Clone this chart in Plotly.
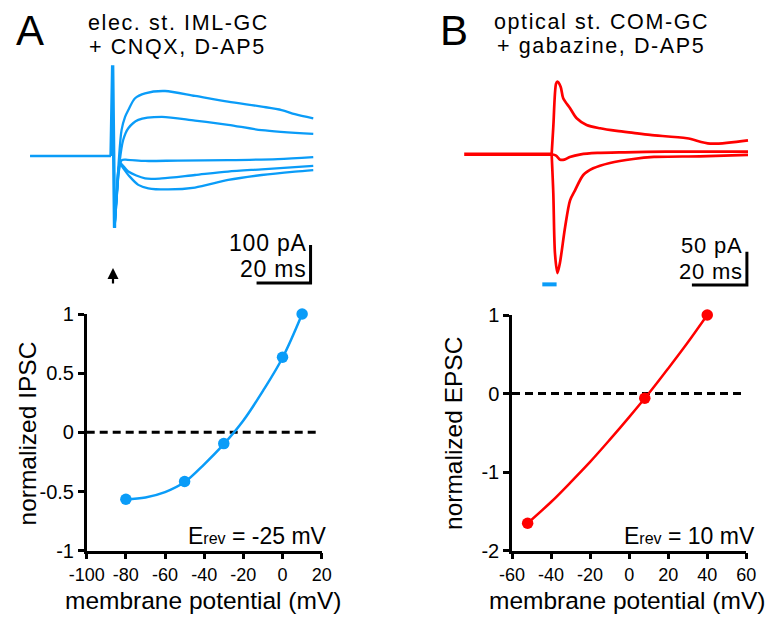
import plotly.graph_objects as go

W, H = 774, 619
BLUE = "#0A9CF8"
RED = "#FF0000"
FONT = "Liberation Sans, Arial, Helvetica, sans-serif"

# ---------------- Panel A traces (time in ms, current in pA) ----------------
a_base_t = [-31.1, -1.1]
a_base_i = [0, 0]
a_artifact_t = [-1.1, -0.5, 0.2]
a_artifact_i = [0, 239, -189]
a_tr1_t = [0.2, 1.0, 1.8, 2.8, 4.1, 5.3, 7.8, 11.5, 18.9, 30, 42.2, 54.7, 62.1, 67, 73.8]
a_tr1_i = [-189, -110, -10, 68, 103, 121, 152, 165, 171, 158, 143, 130, 121, 110, 99]
a_tr2_t = [0.2, 1.1, 2.0, 3.4, 5.3, 9, 17.7, 30, 42.3, 54.7, 73.8]
a_tr2_i = [-189, -100, -20, 42, 73, 95, 103, 93, 82, 68, 58]
a_tr3_t = [0.2, 1.0, 1.8, 2.9, 5, 11.5, 23.7, 42.2, 60.7, 73.8]
a_tr3_i = [-189, -100, -40, -11, -10, -13, -12, -11, -8, -3]
a_tr4_t = [0.2, 1.0, 2.2, 5.3, 11.5, 17.7, 30, 42.2, 54.7, 73.8]
a_tr4_i = [-189, -100, -19, -41, -59, -59, -50, -41, -35, -26]
a_tr5_t = [0.2, 1.0, 2.2, 5.3, 9, 12.7, 20.1, 30, 42.3, 54.7, 67, 73.8]
a_tr5_i = [-189, -100, -24, -50, -76, -85, -88, -83, -63, -50, -41, -37]
a_scale_t = [52.8, 72.8, 72.8]      # 20 ms
a_scale_i = [-334, -334, -234]      # 100 pA

# ---------------- Panel B traces ----------------
b_base_t = [-28.4, 3.4]
b_base_i = [0, 0]
b_up_t = [3.4, 4.0, 5.0, 5.5, 6.7, 7.6, 10.1, 12.5, 16.1, 21, 27.1, 33.1, 39.2, 52.6, 61, 74.8]
b_up_i = [0, 41, 106, 109, 101, 84, 69, 54, 44, 39, 35, 32, 29, 24, 16, 21]
b_down_t = [3.4, 4.0, 4.6, 5.5, 6.4, 8.3, 10.1, 11.9, 14.9, 18.5, 24.6, 33.1, 40.6, 57.3, 74.8]
b_down_i = [0, -58, -148, -178, -163, -109, -69, -54, -31, -21, -13, -7, -4, -3, -1]
b_mid_t = [3.4, 5, 6.5, 8, 10, 14, 20, 30, 45, 60, 74.8]
b_mid_i = [0, -2, -8, -8, -4, 0, 2, 3, 4, 4, 4]
b_light_t = [0, 5.2]
b_light_i = [-195, -195]
b_scale_t = [54.4, 74.4, 74.4]      # 20 ms
b_scale_i = [-196, -196, -146]      # 50 pA

# ---------------- I-V data ----------------
ipsc_v = [-80, -50, -30, 0, 10]
ipsc_norm = [-0.565, -0.415, -0.095, 0.635, 1.0]
ipsc_fit_v = [-80, -70, -60, -50, -40, -30, -20, -10, 0, 10]
ipsc_fit_y = [-0.565, -0.55, -0.505, -0.42, -0.27, -0.1, 0.1, 0.35, 0.63, 1.0]

epsc_v = [-52, 8, 40]
epsc_norm = [-1.65, -0.06, 1.0]
epsc_fit_v = [-52, -40, -30, -20, -10, 0, 10, 20, 30, 40]
epsc_fit_y = [-1.65, -1.38, -1.13, -0.87, -0.59, -0.30, 0.0, 0.32, 0.65, 1.0]

a_xticks = [-100, -80, -60, -40, -20, 0, 20]
a_xtext = ["-100", "-80", "-60", "-40", "-20", "0", "20"]
a_yticks = [-1, -0.5, 0, 0.5, 1]
a_ytext = ["-1", "-0.5", "0", "0.5", "1"]
b_xticks = [-60, -40, -20, 0, 20, 40, 60]
b_xtext = ["-60", "-40", "-20", "0", "20", "40", "60"]
b_yticks = [-2, -1, 0, 1]
b_ytext = ["-2", "-1", "0", "1"]


def fx(px):
    return px / W


def fy(py):
    return 1 - py / H


fig = go.Figure()


def tr(x, y, color, w, xa, ya, shape="spline"):
    fig.add_trace(go.Scatter(x=x, y=y, mode="lines", xaxis=xa, yaxis=ya,
                             line=dict(color=color, width=w, shape=shape, smoothing=0.8),
                             hoverinfo="skip", cliponaxis=False))


tr(a_base_t, a_base_i, BLUE, 2.3, "x3", "y3", "linear")
tr(a_artifact_t, a_artifact_i, BLUE, 3.4, "x3", "y3", "linear")
for t, i in [(a_tr1_t, a_tr1_i), (a_tr2_t, a_tr2_i), (a_tr3_t, a_tr3_i),
             (a_tr4_t, a_tr4_i), (a_tr5_t, a_tr5_i)]:
    tr(t, i, BLUE, 2.3, "x3", "y3")
tr(a_scale_t, a_scale_i, "black", 3, "x3", "y3", "linear")

tr(b_base_t, b_base_i, RED, 3.4, "x4", "y4", "linear")
for t, i in [(b_mid_t, b_mid_i), (b_down_t, b_down_i), (b_up_t, b_up_i)]:
    tr(t, i, RED, 2.7, "x4", "y4")
tr(b_light_t, b_light_i, BLUE, 4, "x4", "y4", "linear")
tr(b_scale_t, b_scale_i, "black", 3, "x4", "y4", "linear")

# bottom-left IV
fig.add_trace(go.Scatter(x=[-100, 17.5], y=[0, 0], mode="lines", xaxis="x", yaxis="y",
                         line=dict(color="black", width=3, dash="8px,5px"), hoverinfo="skip"))
fig.add_trace(go.Scatter(x=ipsc_fit_v, y=ipsc_fit_y, mode="lines", xaxis="x", yaxis="y",
                         line=dict(color=BLUE, width=2.5, shape="spline"), hoverinfo="skip",
                         cliponaxis=False))
fig.add_trace(go.Scatter(x=ipsc_v, y=ipsc_norm, mode="markers", xaxis="x", yaxis="y",
                         marker=dict(color=BLUE, size=11.5), cliponaxis=False))

# bottom-right IV
fig.add_trace(go.Scatter(x=[-60, 58], y=[0, 0], mode="lines", xaxis="x2", yaxis="y2",
                         line=dict(color="black", width=3, dash="8px,5px"), hoverinfo="skip"))
fig.add_trace(go.Scatter(x=epsc_fit_v, y=epsc_fit_y, mode="lines", xaxis="x2", yaxis="y2",
                         line=dict(color=RED, width=2.5, shape="spline"), hoverinfo="skip",
                         cliponaxis=False))
fig.add_trace(go.Scatter(x=epsc_v, y=epsc_norm, mode="markers", xaxis="x2", yaxis="y2",
                         marker=dict(color=RED, size=11.5), cliponaxis=False))

axis_common = dict(showline=True, linecolor="black", linewidth=2.5, ticks="outside",
                   ticklen=6, tickwidth=2.5, tickcolor="black", showgrid=False,
                   zeroline=False, tickmode="array", automargin=False)

fig.update_layout(
    width=W, height=H, autosize=False,
    margin=dict(l=0, r=0, t=0, b=0, pad=0, autoexpand=False),
    paper_bgcolor="white", plot_bgcolor="rgba(0,0,0,0)", showlegend=False,
    font=dict(family=FONT, color="black"),
    xaxis=dict(domain=[fx(86.7), fx(321.7)], range=[-100, 20], anchor="y",
               tickvals=a_xticks, ticktext=a_xtext, tickfont=dict(size=18), **axis_common),
    yaxis=dict(domain=[fy(550.7), fy(314)], range=[-1, 1], anchor="x",
               tickvals=a_yticks, ticktext=a_ytext, tickfont=dict(size=20), **axis_common),
    xaxis2=dict(domain=[fx(512), fx(746.3)], range=[-60, 60], anchor="y2",
                tickvals=b_xticks, ticktext=b_xtext, tickfont=dict(size=18), **axis_common),
    yaxis2=dict(domain=[fy(550.7), fy(315)], range=[-2, 1], anchor="x2",
                tickvals=b_yticks, ticktext=b_ytext, tickfont=dict(size=20), **axis_common),
    xaxis3=dict(domain=[0, 0.5], range=[(0 - 114) / 2.7, (387 - 114) / 2.7],
                visible=False, anchor="y3", automargin=False),
    yaxis3=dict(domain=[fy(300), 1], range=[(156 - 300) / 0.38, 156 / 0.38],
                visible=False, anchor="x3", automargin=False),
    xaxis4=dict(domain=[0.5, 1], range=[(387 - 542.3) / 2.75, (774 - 542.3) / 2.75],
                visible=False, anchor="y4", automargin=False),
    yaxis4=dict(domain=[fy(300), 1], range=[(154.3 - 300) / 0.667, 154.3 / 0.667],
                visible=False, anchor="x4", automargin=False),
)


def ann(text, px, py, size, xanchor="center", angle=0, ls=0):
    if ls:
        text = '<span style="letter-spacing:%spx">%s</span>' % (ls, text)
    fig.add_annotation(text=text, x=fx(px), y=fy(py), xref="paper", yref="paper",
                       showarrow=False, xanchor=xanchor, yanchor="middle",
                       textangle=angle, font=dict(size=size, family=FONT, color="black"))


ann("A", 30, 31, 42)
ann("B", 453.5, 31, 42)
ann("elec. st. IML-GC", 178.5, 23, 21.5, ls=1.6)
ann("+ CNQX, D-AP5", 177, 47, 21.5, ls=1.6)
ann("optical st. COM-GC", 601.5, 22, 21.5, ls=1.6)
ann("+ gabazine, D-AP5", 601, 46, 21.5, ls=1.6)
ann("100 pA", 309, 243, 23, "right", ls=0.8)
ann("20 ms", 308.5, 269, 23, "right", ls=0.8)
ann("50 pA", 744.5, 245.5, 22, "right", ls=0.8)
ann("20 ms", 744.5, 271.5, 22, "right", ls=0.8)
ann('E<span style="font-size:16px">rev</span> = -25 mV', 329, 535.8, 23, "right")
ann('E<span style="font-size:16px">rev</span> = 10 mV', 757, 535.5, 23, "right")
ann("membrane potential (mV)", 202.5, 600, 24.5)
ann("membrane potential (mV)", 627, 600, 24.5)
ann("normalized IPSC", 27, 433.5, 24.5, angle=-90)
ann("normalized EPSC", 453, 434, 24.5, angle=-90)

# stimulus arrow under panel A
fig.add_annotation(x=fx(113), y=fy(268), xref="paper", yref="paper", text="",
                   showarrow=True, ax=0, ay=17, arrowhead=2, arrowsize=1,
                   arrowwidth=2.2, arrowcolor="black")

fig.write_html("out.html")
